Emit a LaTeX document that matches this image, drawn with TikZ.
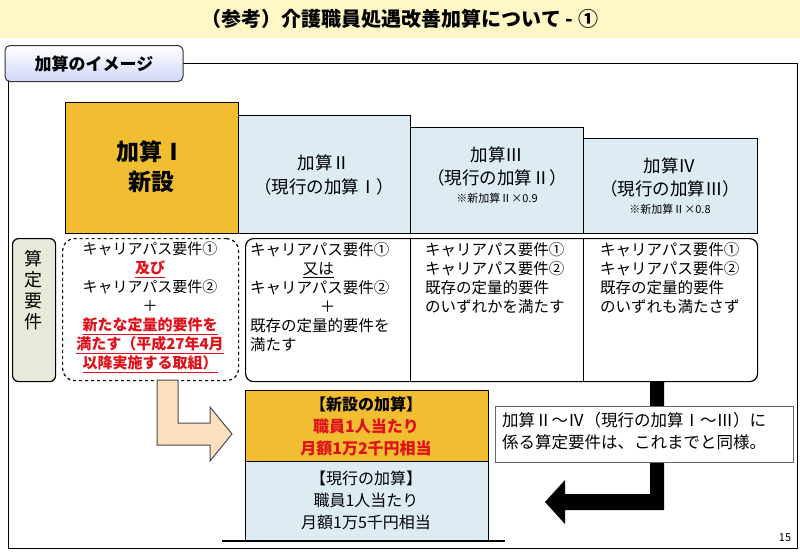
\documentclass[tikz,border=0pt]{standalone}
\usepackage{fontspec}
\setmainfont{Noto Sans CJK JP}
\begin{document}
\begin{tikzpicture}[x=1pt,y=-1pt,
  col/.style={draw=black,line width=1.3pt,fill=colblue},
  txt/.style={align=center,font=\fontsize{15.5}{19}\selectfont,inner sep=0pt},
  ltxt/.style={align=left,font=\fontsize{15.5}{19}\selectfont,inner sep=0pt,anchor=north west}]
\definecolor{colblue}{HTML}{DDEBF3}
\definecolor{gold}{HTML}{F0BE30}
\definecolor{titley}{HTML}{FFF8C6}
\definecolor{labg}{HTML}{E6EAD8}
\definecolor{beige}{HTML}{FBE0C0}
\definecolor{redt}{HTML}{E0101A}
\useasboundingbox (0,0) rectangle (800,554);
\fill[white] (0,0) rectangle (800,554);
\fill[titley] (0,0) rectangle (800,38);
\node[font=\bfseries\fontsize{20}{22}\selectfont] (title) at (400,19) {（参考）介護職員処遇改善加算について - ①};
% frame
\draw[line width=1pt] (183,63) -- (797,63) -- (797,548) -- (8,548) -- (8,80);
\node[draw=black!80,line width=1pt,rounded corners=5pt,top color=white,bottom color=colblue!80!blue!60,minimum width=178pt,minimum height=36pt,font=\bfseries\fontsize{17}{19}\selectfont] (tab) at (94,63.5) {加算のイメージ};
% columns
\node[col,fill=gold,minimum width=173pt,minimum height=131pt,anchor=north west,inner sep=0pt] (c1) at (65,102) {};
\node[col,minimum width=172pt,minimum height=118pt,anchor=north west] (c2) at (238,115) {};
\node[col,minimum width=173pt,minimum height=106pt,anchor=north west] (c3) at (410,127) {};
\node[col,minimum width=174pt,minimum height=95pt,anchor=north west] (c4) at (583,138) {};
\node[font=\bfseries\fontsize{23}{30}\selectfont,align=center] (t1) at (151,167) {加算Ⅰ\\新設};
\node[txt,font=\fontsize{17.5}{24}\selectfont] (t2) at (324,175) {加算Ⅱ\\（現行の加算Ⅰ）};
\node[txt,font=\fontsize{17.5}{23}\selectfont] (t3) at (497,175) {加算Ⅲ\\（現行の加算Ⅱ）\\[-5pt]{\fontsize{11}{13}\selectfont ※新加算Ⅱ×0.9}};
\node[txt,font=\fontsize{17.5}{23}\selectfont] (t4) at (670,186) {加算Ⅳ\\（現行の加算Ⅲ）\\[-5pt]{\fontsize{11}{13}\selectfont ※新加算Ⅱ×0.8}};
% requirement label
\node[draw=black,line width=1.2pt,fill=labg,rounded corners=6pt,minimum width=43pt,minimum height=143pt,anchor=north west] (lab) at (12,238) {};
\node[txt,font=\fontsize{18}{21}\selectfont] (labt) at (33.5,290) {算\\定\\要\\件};
% dashed box
\node[draw=black,line width=1.2pt,dashed,rounded corners=12pt,minimum width=176pt,minimum height=142pt,anchor=north west] (db) at (62,238) {};
\node[txt,anchor=north,font=\fontsize{15}{19}\selectfont] (dbt) at (150,242) {キャリアパス要件①\\
{\color{redt}\bfseries\underline{及び}}\\キャリアパス要件②\\＋\\
\color{redt}\bfseries\underline{新たな定量的要件を}\\\color{redt}\bfseries\underline{満たす（平成27年4月}\\\color{redt}\bfseries\underline{以降実施する取組）}};
% solid box
\node[draw=black,line width=1.2pt,rounded corners=8pt,minimum width=512pt,minimum height=143pt,anchor=north west] (sb) at (245,238) {};
\draw[line width=1pt] (410,238) -- (410,381) (583,238) -- (583,381);
\node[ltxt] (s2) at (250,242) {キャリアパス要件①\\\hspace*{3.4em}\underline{又は}\\キャリアパス要件②\\\hspace*{4.5em}＋\\既存の定量的要件を\\満たす};
\node[ltxt] (s3) at (425,242) {キャリアパス要件①\\キャリアパス要件②\\既存の定量的要件\\のいずれかを満たす};
\node[ltxt] (s4) at (600,242) {キャリアパス要件①\\キャリアパス要件②\\既存の定量的要件\\のいずれも満たさず};
% beige arrow
\draw[black!70,line width=1pt,fill=beige] (157,380) -- (178,380) -- (178,423) -- (210,423) -- (210,407) -- (232,434) -- (210,461) -- (210,445) -- (157,445) -- cycle;
% black arrow
\fill[black] (650,381) -- (664,381) -- (664,510) -- (565,510) -- (565,524) -- (545,502) -- (565,480) -- (565,494) -- (650,494) -- cycle;
% result boxes
\node[draw=black,line width=1.2pt,fill=gold,minimum width=243pt,minimum height=71pt,anchor=north west] (yb) at (245,390) {};
\node[txt,font=\bfseries\fontsize{16}{22}\selectfont] (ybt) at (366,426) {【新設の加算】\\\color{redt}職員1人当たり\\\color{redt}月額1万2千円相当};
\node[draw=black,line width=1.2pt,fill=colblue,minimum width=243pt,minimum height=79pt,anchor=north west] (bb) at (245,461) {};
\node[txt,font=\fontsize{16}{22}\selectfont] (bbt) at (366,500) {【現行の加算】\\職員1人当たり\\月額1万5千円相当};
\draw[line width=2.5pt] (222,541) -- (505,541);
% note
\node[draw=black!60,line width=0.8pt,fill=white,minimum width=298pt,minimum height=56pt,anchor=north west] (note) at (495,406) {};
\node[ltxt,font=\fontsize{16.5}{22}\selectfont] (notet) at (502,412) {加算Ⅱ～Ⅳ（現行の加算Ⅰ～Ⅲ）に\\係る算定要件は、これまでと同様。};
\node[font=\fontsize{11}{12}\selectfont] (pg) at (785,538) {15};
\end{tikzpicture}
\end{document}
